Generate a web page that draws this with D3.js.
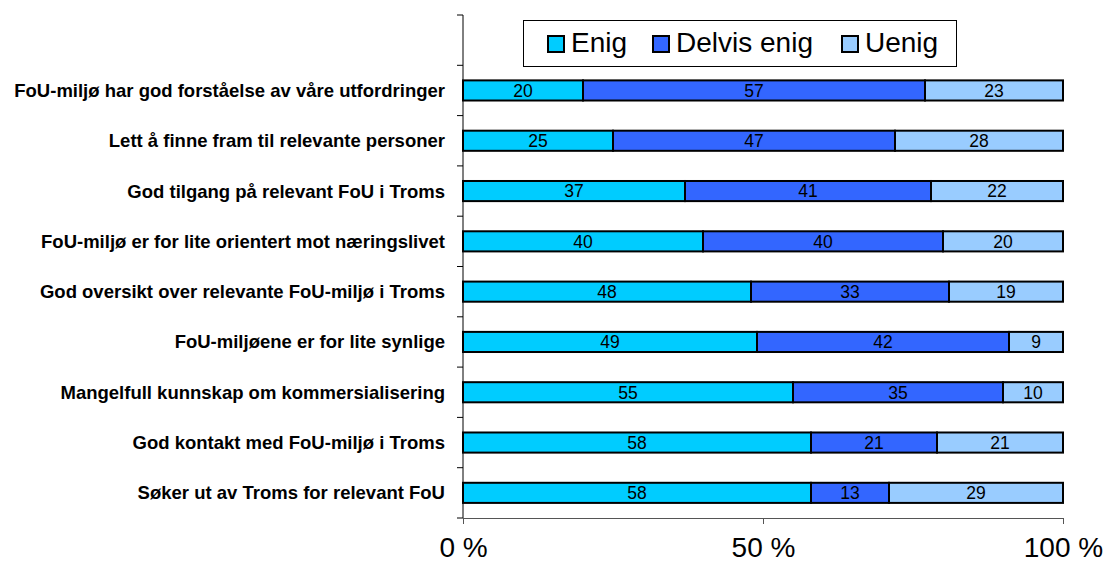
<!DOCTYPE html>
<html>
<head>
<meta charset="utf-8">
<script src="https://cdn.jsdelivr.net/npm/d3@7"></script>
<style>
  body { margin: 0; background: #fff; }
  text { font-family: "Liberation Sans", Arial, sans-serif; }
</style>
</head>
<body>
<div id="chart"></div>
<script>
// Stacked 100% bars, top to bottom
const categories = [
  "FoU-miljø har god forståelse av våre utfordringer",
  "Lett å finne fram til relevante personer",
  "God tilgang på relevant FoU i Troms",
  "FoU-miljø er for lite orientert mot næringslivet",
  "God oversikt over relevante FoU-miljø i Troms",
  "FoU-miljøene er for lite synlige",
  "Mangelfull kunnskap om kommersialisering",
  "God kontakt med FoU-miljø i Troms",
  "Søker ut av Troms for relevant FoU"
];
const seriesNames = ["Enig", "Delvis enig", "Uenig"];
const enig   = [20, 25, 37, 40, 48, 49, 55, 58, 58];
const delvis = [57, 47, 41, 40, 33, 42, 35, 21, 13];
const uenig  = [23, 28, 22, 20, 19, 9, 10, 21, 29];
const xTicks = [0, 50, 100];
const colors = ["#00CCFF", "#3366FF", "#99CCFF"];

const width = 1112, height = 572;
const plotLeft = 463, plotRight = 1063, plotTop = 15, plotBottom = 518;

const svg = d3.select("#chart").append("svg")
  .attr("width", width).attr("height", height);

// top band stays empty (room for the legend)
const y = d3.scaleBand()
  .domain(["__legend__", ...categories])
  .range([plotTop, plotBottom])
  .paddingInner(0.6)
  .paddingOuter(0.3);

const x = d3.scaleLinear().domain([0, 100]).range([plotLeft, plotRight]);

const rows = categories.map((c, i) => ({ cat: c, Enig: enig[i], "Delvis enig": delvis[i], Uenig: uenig[i] }));
const stacked = d3.stack().keys(seriesNames)(rows);

// y axis line and band ticks
svg.append("line")
  .attr("x1", plotLeft).attr("x2", plotLeft)
  .attr("y1", plotTop).attr("y2", plotBottom)
  .attr("stroke", "#000").attr("stroke-width", 1);

const boundaries = d3.range(y.domain().length + 1).map(i => plotTop + i * y.step());
svg.selectAll(".ytick").data(boundaries).join("line")
  .attr("x1", plotLeft - 6).attr("x2", plotLeft)
  .attr("y1", d => d).attr("y2", d => d)
  .attr("stroke", "#000").attr("stroke-width", 1);

// x axis
const xAxis = svg.append("g")
  .attr("transform", `translate(0,${plotBottom})`)
  .call(d3.axisBottom(x).tickValues(xTicks).tickSize(6).tickSizeOuter(0).tickFormat(d => d + " %"));
xAxis.select(".domain").attr("stroke", "#555");
xAxis.selectAll(".tick line").attr("stroke", "#555");
xAxis.selectAll(".tick text")
  .attr("font-size", 28)
  .attr("fill", "#000")
  .attr("y", 14)
  .attr("dy", "0.9em");

// category labels
svg.selectAll(".cat").data(categories).join("text")
  .attr("x", 445)
  .attr("y", d => y(d) + y.bandwidth() / 2)
  .attr("dy", "0.35em")
  .attr("text-anchor", "end")
  .attr("font-size", 18.5)
  .attr("font-weight", "bold")
  .text(d => d);

// bars
const layers = svg.selectAll(".layer").data(stacked).join("g")
  .attr("fill", (d, i) => colors[i]);

layers.selectAll("rect").data(d => d).join("rect")
  .attr("x", d => x(d[0]))
  .attr("y", d => y(d.data.cat))
  .attr("width", d => x(d[1]) - x(d[0]))
  .attr("height", y.bandwidth())
  .attr("stroke", "#000")
  .attr("stroke-width", 2);

layers.selectAll("text").data(d => d).join("text")
  .attr("x", d => (x(d[0]) + x(d[1])) / 2)
  .attr("y", d => y(d.data.cat) + y.bandwidth() / 2)
  .attr("dy", "0.36em")
  .attr("text-anchor", "middle")
  .attr("font-size", 17.5)
  .attr("fill", "#000")
  .text(d => d[1] - d[0]);

// legend
const legend = svg.append("g");
legend.append("rect")
  .attr("x", 523.5).attr("y", 20.5)
  .attr("width", 433).attr("height", 46)
  .attr("fill", "#fff").attr("stroke", "#000").attr("stroke-width", 1);

const legendX = [548, 653, 842];
seriesNames.forEach((name, i) => {
  legend.append("rect")
    .attr("x", legendX[i]).attr("y", 36)
    .attr("width", 16).attr("height", 16)
    .attr("fill", colors[i])
    .attr("stroke", "#000").attr("stroke-width", 2);
  legend.append("text")
    .attr("x", legendX[i] + 23).attr("y", 52)
    .attr("font-size", 28)
    .text(name);
});
</script>
</body>
</html>
